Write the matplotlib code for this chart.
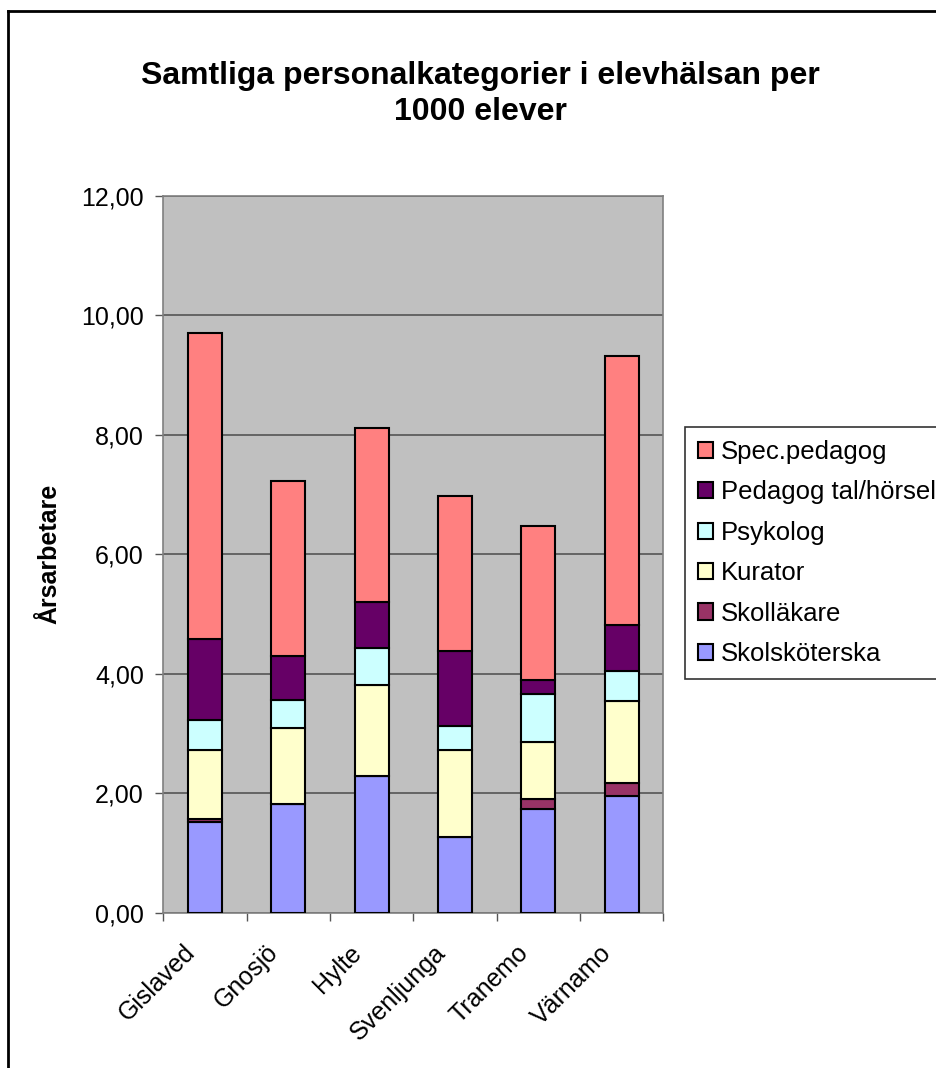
import matplotlib.pyplot as plt
import numpy as np
from matplotlib.lines import Line2D
from matplotlib.transforms import ScaledTranslation

plt.rcParams["font.family"] = ["Liberation Sans", "DejaVu Sans"]

kommuner = ["Gislaved", "Gnosjö", "Hylte", "Svenljunga", "Tranemo", "Värnamo"]

# årsarbetare per 1000 elever, per personalkategori
skolskoterska = [1.52, 1.82, 2.29, 1.26, 1.73, 1.96]
skollakare = [0.05, 0.00, 0.00, 0.00, 0.17, 0.21]
kurator = [1.16, 1.28, 1.53, 1.47, 0.96, 1.37]
psykolog = [0.49, 0.46, 0.61, 0.39, 0.80, 0.50]
pedagog_tal = [1.37, 0.74, 0.77, 1.27, 0.24, 0.77]
spec_pedagog = [5.12, 2.92, 2.91, 2.59, 2.57, 4.51]

serier = [
    ("Skolsköterska", skolskoterska, "#9999FF"),
    ("Skolläkare", skollakare, "#993366"),
    ("Kurator", kurator, "#FFFFCC"),
    ("Psykolog", psykolog, "#CCFFFF"),
    ("Pedagog tal/hörsel", pedagog_tal, "#660066"),
    ("Spec.pedagog", spec_pedagog, "#FF8080"),
]

W, H = 937, 1068
fig = plt.figure(figsize=(W / 100, H / 100), dpi=100)
ax = fig.add_axes([163.3 / W, 1 - 912.7 / H, 500 / W, 716.7 / H])
ax.set_facecolor("#C0C0C0")

x = np.arange(len(kommuner))
bottom = np.zeros(len(kommuner))
handles = []
for namn, varden, farg in serier:
    v = np.array(varden)
    bars = ax.bar(x, v, width=0.41, bottom=bottom, color=farg,
                  edgecolor="black", linewidth=1.5, label=namn, zorder=3)
    handles.append(bars)
    bottom += v

ax.set_ylim(0, 12)
ax.set_xlim(-0.5, len(kommuner) - 0.5)
yticks = np.arange(0, 12.1, 2)
ax.set_yticks(yticks)
ax.set_yticklabels([f"{t:.2f}".replace(".", ",") for t in yticks])
ax.yaxis.grid(True, color="#555555", linewidth=1.2, zorder=1)
ax.tick_params(axis="y", length=6, width=1, color="#555555", pad=8,
               labelsize=18)

ax.set_xticks(x)
ax.set_xticklabels(kommuner, rotation=45, ha="right", va="top",
                   rotation_mode="anchor", fontsize=18)
ax.set_xticks(np.arange(-0.5, len(kommuner)), minor=True)
ax.tick_params(axis="x", which="major", length=0, pad=20)
ax.tick_params(axis="x", which="minor", length=6, width=1, color="#555555")
skift = ScaledTranslation(-0.22, 0, fig.dpi_scale_trans)
for lbl in ax.get_xticklabels():
    lbl.set_transform(lbl.get_transform() + skift)

for s in ax.spines.values():
    s.set_color("#808080")
    s.set_linewidth(1.2)

ax.set_ylabel("Årsarbetare", fontsize=18, fontweight="bold", labelpad=14)

fig.text(480 / W, 1 - 94 / H,
         "Samtliga personalkategorier i elevhälsan per\n1000 elever",
         ha="center", va="center", fontsize=23, fontweight="bold",
         linespacing=1.3)

leg = fig.legend(handles[::-1], [s[0] for s in serier][::-1],
                 loc="upper left", bbox_to_anchor=(685 / W, 1 - 427 / H),
                 bbox_transform=fig.transFigure, fontsize=18.5,
                 frameon=True, fancybox=False, edgecolor="black",
                 handlelength=0.6, handleheight=0.6, handletextpad=0.3,
                 labelspacing=0.64, borderpad=0.5, borderaxespad=0)
leg.get_frame().set_linewidth(1.2)

# yttre ram runt diagrammet
fig.add_artist(Line2D([8 / W, 1], [1 - 11 / H, 1 - 11 / H], color="black",
                      linewidth=2, transform=fig.transFigure))
fig.add_artist(Line2D([8 / W, 8 / W], [0, 1 - 11 / H], color="black",
                      linewidth=2, transform=fig.transFigure))

fig.savefig("out.png", dpi=100)
